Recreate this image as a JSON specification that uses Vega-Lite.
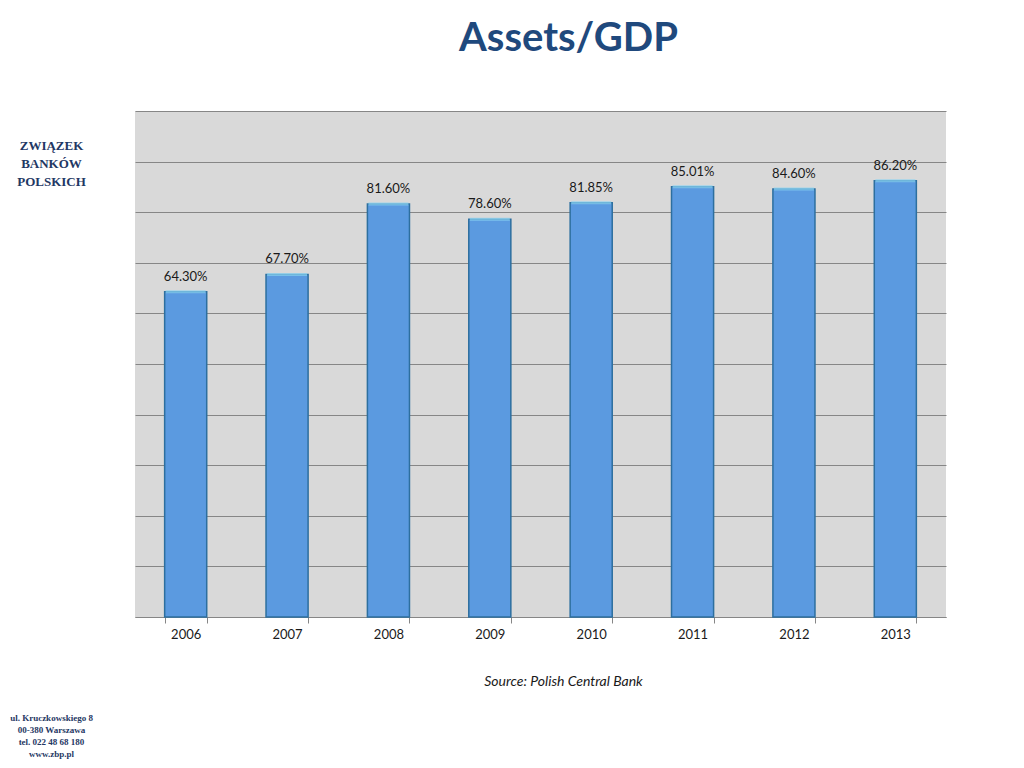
{
  "$schema": "https://vega.github.io/schema/vega-lite/v6.json",
  "width": 811,
  "height": 506,
  "autosize": {"type": "none"},
  "padding": {"left": 135, "top": 111, "right": 78, "bottom": 151},
  "background": "white",
  "config": {"view": {"fill": "#d9d9d9", "stroke": null}, "font": "Lato"},
  "title": {"text": "Assets/GDP", "font": "Lato", "fontSize": 40, "fontWeight": "bold", "color": "#1f497d", "anchor": "middle", "dx": 28, "offset": 52},
  "data": {"values": [
    {"year": "2006", "value": 0.643},
    {"year": "2007", "value": 0.677},
    {"year": "2008", "value": 0.816},
    {"year": "2009", "value": 0.786},
    {"year": "2010", "value": 0.8185},
    {"year": "2011", "value": 0.8501},
    {"year": "2012", "value": 0.846},
    {"year": "2013", "value": 0.862}
  ]},
  "encoding": {
    "x": {
      "field": "year", "type": "ordinal",
      "scale": {"paddingInner": 0.585, "paddingOuter": 0.2925},
      "axis": {
        "title": "Source: Polish Central Bank", "titleFont": "Lato", "titleFontStyle": "italic", "titleFontSize": 14, "titleFontWeight": "normal", "titleColor": "#1a1a1a", "titlePadding": 33, "titleX": 428,
        "labelAngle": 0, "labelFont": "Lato", "labelFontSize": 13, "labelColor": "#1a1a1a", "labelPadding": 5,
        "domainColor": "#868686", "tickColor": "#868686", "tickSize": 6, "tickBand": "extent", "grid": false
      }
    }
  },
  "layer": [
    {
      "mark": {"type": "bar", "color": "#5b9ae0", "stroke": "#2d6f9f", "strokeWidth": 1.5},
      "encoding": {
        "y": {"field": "value", "type": "quantitative", "scale": {"domain": [0, 1]},
          "axis": {
            "values": [0, 0.1, 0.2, 0.3, 0.4, 0.5, 0.6, 0.7, 0.8, 0.9, 1],
            "labels": false, "ticks": false, "domain": false, "grid": true, "gridColor": "#868686", "gridWidth": 1,
            "title": ["ZWIĄZEK", "BANKÓW", "POLSKICH"], "titleAngle": 0, "titleAlign": "center", "titleBaseline": "top",
            "titleX": -84, "titleY": 28, "titleFont": "Liberation Serif", "titleFontSize": 13, "titleFontWeight": "bold", "titleColor": "#1f3864", "titleLineHeight": 18
          }
        }
      }
    },
    {
      "mark": {"type": "tick", "color": "#8ad4f4", "thickness": 3, "size": 40},
      "encoding": {
        "y": {"field": "value", "type": "quantitative", "scale": {"domain": [0, 1]}, "axis": null}
      }
    },
    {
      "mark": {"type": "text", "dy": -15, "baseline": "middle", "font": "Lato", "fontSize": 13, "color": "#1a1a1a"},
      "encoding": {
        "y": {"field": "value", "type": "quantitative", "scale": {"domain": [0, 1]},
          "axis": {
            "orient": "right", "labels": false, "ticks": false, "domain": false, "grid": false,
            "title": ["ul. Kruczkowskiego 8", "00-380 Warszawa", "tel. 022 48 68 180", "www.zbp.pl"],
            "titleAngle": 0, "titleAlign": "center", "titleBaseline": "top", "titleX": -895, "titleY": 602,
            "titleFont": "Liberation Serif", "titleFontSize": 9, "titleFontWeight": "bold", "titleColor": "#1f3864", "titleLineHeight": 12
          }
        },
        "text": {"field": "value", "type": "quantitative", "format": ".2%"}
      }
    }
  ],
  "resolve": {"scale": {"y": "independent"}, "axis": {"y": "independent"}}
}
